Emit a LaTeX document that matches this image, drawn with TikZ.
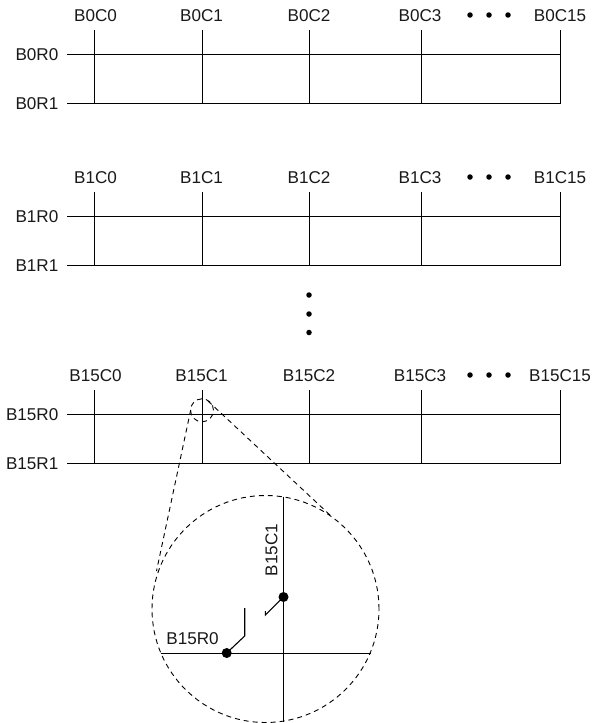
\documentclass[tikz,border=0pt]{standalone}
\usepackage{fontspec}
\setmainfont{Liberation Sans}
\tikzset{
  lbl/.style={inner sep=0pt,font=\fontsize{17.1}{18}\selectfont,text=black!90},
  wire/.style={line width=1.1pt,black},
  dashline/.style={line width=0.9pt,black,dash pattern=on 5pt off 4pt},
  bigdot/.style={circle,fill=black,inner sep=0pt,minimum size=#1},
}
\begin{document}
\begin{tikzpicture}[x=1pt,y=-1pt]
\useasboundingbox (0,0) rectangle (594,723);
\fill[white] (0,0) rectangle (594,723);
% word-line / bit-line blocks
\foreach \b/\top/\nm in {0/30/a,1/192/b,15/390/c}{
  \pgfmathsetmacro{\ra}{\top+24.5}
  \pgfmathsetmacro{\rb}{\top+73.5}
  \coordinate (\nm ra0) at (67,\ra);
  \coordinate (\nm ra1) at (560.5,\ra);
  \coordinate (\nm rb0) at (67,\rb);
  \coordinate (\nm rb1) at (560.5,\rb);
  \draw[wire] (\nm ra0) -- (\nm ra1);
  \draw[wire] (\nm rb0) -- (\nm rb1);
  \foreach \c/\x in {0/94.5,1/202.5,2/309.5,3/421.5,15/560.5}{
    \coordinate (\nm t\c) at (\x,\top);
    \coordinate (\nm u\c) at (\x,\rb);
    \draw[wire] (\nm t\c) -- (\nm u\c);
  }
  \foreach \c/\x in {0/95.5,1/201.5,2/309,3/420,15/560}{
    \node[lbl] (\nm cl\c) at (\x,\top-14) {B\b C\c};
  }
  \node[lbl,anchor=east] (\nm r0) at (58.5,\ra) {B\b R0};
  \node[lbl,anchor=east] (\nm r1) at (58.5,\rb) {B\b R1};
  \foreach \i/\x in {1/470,2/489,3/508}{
    \node[bigdot=5.5pt] (\nm d\i) at (\x,\top-15) {};
  }
}
% vertical ellipsis
\node[bigdot=5.5pt] (v1) at (309,295) {};
\node[bigdot=5.5pt] (v2) at (309,314) {};
\node[bigdot=5.5pt] (v3) at (309,332.5) {};
% magnifier
\node[circle,draw,dashline,minimum size=23pt,inner sep=0pt] (small) at (202,410.3) {};
\node[circle,draw,dashline,minimum size=227pt,inner sep=0pt] (big) at (265.5,609) {};
\coordinate (sl) at (190.7,410);
\coordinate (bl) at (156.5,571);
\coordinate (sr) at (208,401);
\coordinate (br) at (331,516);
\draw[dashline] (sl) -- (bl);
\draw[dashline] (sr) -- (br);
% enlarged crossing
\coordinate (vt) at (283.5,497);
\coordinate (vb) at (283.5,722);
\coordinate (hl) at (160.5,653.5);
\coordinate (hr) at (370.5,653.5);
\draw[wire] (vt) -- (vb);
\draw[wire] (hl) -- (hr);
\node[bigdot=10pt] (cd) at (283.5,597) {};
\node[bigdot=10pt] (rd) at (226.7,653) {};
\coordinate (k1) at (244.7,636);
\coordinate (k2) at (244.7,608);
\coordinate (k3) at (265.3,615);
\coordinate (k4) at (265.3,611);
\draw[wire] (rd.center) -- (k1) -- (k2);
\draw[wire] (cd.center) -- (k3) -- (k4);
\node[lbl,rotate=90] (lc) at (271.5,550) {B15C1};
\node[lbl] (lr) at (192.5,639) {B15R0};
\end{tikzpicture}
\end{document}
